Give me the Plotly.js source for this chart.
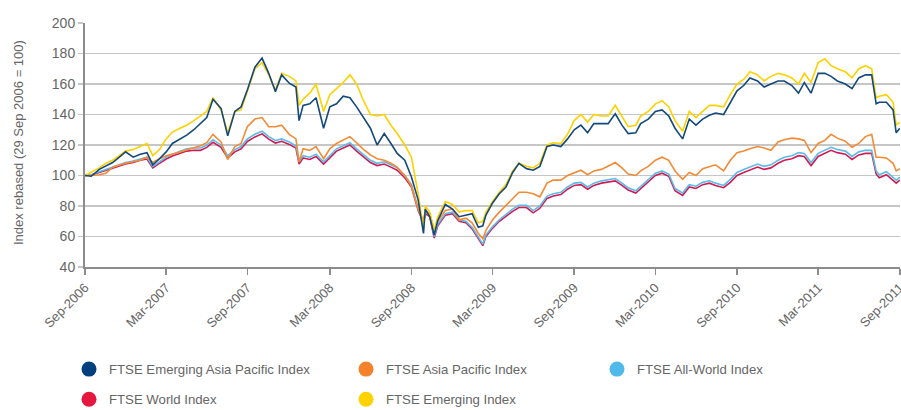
<!DOCTYPE html>
<html>
<head>
<meta charset="utf-8">
<script src="https://cdn.plot.ly/plotly-3.0.1.min.js"></script>
<style>
  html, body { margin: 0; padding: 0; background: #fff; }
  #chart { width: 901px; height: 410px; }
</style>
</head>
<body>
<div id="chart"></div>
<script>
// Observation dates (semi-monthly, with extra points at sharp turns)
const dates = [
  "2006-09-29","2006-10-13","2006-10-31","2006-11-15","2006-11-30","2006-12-15","2006-12-29","2007-01-15","2007-01-31","2007-02-15",
  "2007-02-28","2007-03-15","2007-03-30","2007-04-13","2007-04-30","2007-05-15","2007-05-31","2007-06-15","2007-06-29","2007-07-13",
  "2007-07-31","2007-08-15","2007-08-31","2007-09-14","2007-09-28","2007-10-15","2007-10-31","2007-11-15","2007-11-30","2007-12-14",
  "2007-12-31",
  "2008-01-15","2008-01-22","2008-01-31",
  "2008-02-15","2008-02-29","2008-03-17","2008-03-31","2008-04-15","2008-04-30","2008-05-15","2008-05-30","2008-06-13","2008-06-30",
  "2008-07-15","2008-07-31","2008-08-15","2008-08-29","2008-09-15","2008-09-30","2008-10-15",
  "2008-10-27","2008-10-31","2008-11-10","2008-11-20","2008-11-28",
  "2008-12-15","2008-12-31","2009-01-15","2009-01-30","2009-02-13","2009-02-27",
  "2009-03-09",
  "2009-03-16","2009-03-31","2009-04-15","2009-04-30","2009-05-15","2009-05-29","2009-06-15","2009-06-30","2009-07-15","2009-07-31",
  "2009-08-14","2009-08-31","2009-09-15","2009-09-30","2009-10-15","2009-10-30","2009-11-13","2009-11-30","2009-12-15","2009-12-31",
  "2010-01-15","2010-01-29","2010-02-15","2010-02-26","2010-03-15","2010-03-31","2010-04-15","2010-04-30","2010-05-14","2010-05-31",
  "2010-06-15","2010-06-30","2010-07-15","2010-07-30","2010-08-13","2010-08-31","2010-09-15","2010-09-30","2010-10-15","2010-10-29",
  "2010-11-15","2010-11-30","2010-12-15","2010-12-31","2011-01-14","2011-01-31","2011-02-15","2011-02-28","2011-03-15","2011-03-31",
  "2011-04-15","2011-04-29","2011-05-13","2011-05-31","2011-06-15","2011-06-30","2011-07-15","2011-07-29",
  "2011-08-08","2011-08-15","2011-08-31","2011-09-15","2011-09-22","2011-09-30"
];

const emergingAsiaPacific = [
  100,99.5,104,106.5,108.5,112,115.5,112,114,115,
  107,111,115.5,121,124,126.5,130,134,138,150,
  144,126,142,145,156,171,177,167,155,166,
  160.5,
  158,136,146,
  147,151,131,145,147,152,151,145,138.5,131,
  120,127.5,121,114.5,110,99,84,
  62,78,73,61,70.5,
  81,78,73,74,75,66,
  67,
  74,82,88,92.5,102,108,104.5,103.5,106,119,
  120,119,124,130,133,128,134,134,134,140.5,
  133,127.5,128,134,137,142,143,139,131,124,
  137,133,137,139.5,141,140,148,155.5,159,164,
  162,158,160,162,162,159,154,161,154,167,
  167,165,162,160,157,164,166,166,
  147,148,148,143,128,131
];

const asiaPacific = [
  100,100,100.5,101.5,105.5,107,108,109,110,112,
  108.5,111,113,114,115.5,117,118.5,119.5,121.5,127,
  122,110.5,119,121,132,137,138,132,132,133,
  127,
  124,109,117.5,
  116.5,119,111,117.5,121,123,125.5,121.5,117.5,113.5,
  111,110,108,105.5,100,93,78,
  70,77,75,64,70,
  77,78,71,72,69,62,
  58.5,
  64,71,76,80.5,85,89,89,88,86,95,
  97,97,100,102,103.5,100.5,103,104,106,108.5,
  105,101,100,103,106,110,112,110,103,97.5,
  102,100,104.5,106,107,103,110,115,116,117.5,
  119,118,116.5,122,123.5,124.5,124,123,115,121,
  123,127,124.5,122.5,118.5,121,125.5,127,
  112,112,111.5,108,103,104.5
];

const allWorld = [
  100,100.5,102.5,104,105.5,107,108.5,109.5,111,112,
  106,109,112,114,116,117.5,118,118,120,123.5,
  120,113,117,119,124,127,129,125.5,123,124,
  122,
  119.5,109,113,
  112,114,109,113,117.5,119.5,121.5,117.5,114,110,
  108,109,107,105,100,94,78,
  70,76,74,60,68,
  75,76,71,70,66,60,
  55,
  61,66.5,71,74.5,78,80.5,80.5,77,80,86.5,
  88,89,92.5,95,95.5,92.5,95,96.5,97,98,
  95,92,90,93,97,101.5,103,101,91.5,88.5,
  94,93,95.5,96.5,95,93.5,97.5,102,104,105.5,
  107.5,106,107,110,112,113,115,114.5,108.5,114.5,
  116.5,118.5,117,116,112.5,115.5,116.5,116.5,
  103,100.5,102.5,99,97,99
];

const world = [
  100,100.3,102,103.5,104.8,106.2,107.6,108.5,110,110.8,
  105,108,110.8,112.8,114.6,116,116.6,116.5,118.4,121.8,
  118.5,111.5,115.5,117.5,122.3,125.3,127.3,123.8,121.3,122.4,
  120.4,
  118,107.5,111.5,
  110.5,112.5,107.5,111.5,116,118,120,116,112.5,108.5,
  106.5,107.5,105.5,103.5,98.5,92.5,77,
  69,75,73,59,67,
  74,75,70,69,65,59,
  54,
  60,65.5,70,73.5,76.5,79,79,75.5,78.5,85,
  86.5,87.5,91,93.5,94,91,93.5,95,95.5,96.5,
  93.5,90.5,88.5,91.5,95.5,100,101.5,99.5,90,87,
  92.5,91.5,94,95,93.5,92,95.5,100,102,103.5,
  105.5,104,105,108,110,111,113,112.5,106.5,112.5,
  114.5,116.5,115,114,110.5,113.5,114.5,114.5,
  101,98.5,100.5,97,95,97
];

const emerging = [
  100,102,105,108,110,113,116,117,119,121,
  113,117,124,128.5,131,133,136,139,142,151,
  143,128,142,143,155,170,174,166,156,167,
  165,
  162,146,150,
  154,160,142,153,157,161,166,160,150,140,
  139,140,133,127.5,120,112,88,
  65,80,76,64,73,
  83,81,76,77,77,69,
  70,
  76,83,89,94,103,108,106,105,108,120,
  121.5,121,127,136,140,135,140,139,139,146,
  139,132,133,139,142,147,149,145,136,129,
  142,138,142,146,146,145,153,160,163,168,
  166,162,165,167,166,164,160,167,161,174,
  176.5,172,170,168,164,170,172,170,
  151,152,153,148,133,135
];

const tickDates = ["2006-09-29","2007-03-30","2007-09-28","2008-03-31","2008-09-30","2009-03-31",
                   "2009-09-30","2010-03-31","2010-09-30","2011-03-31","2011-09-30"];
const tickLabels = ["Sep-2006","Mar-2007","Sep-2007","Mar-2008","Sep-2008","Mar-2009",
                    "Sep-2009","Mar-2010","Sep-2010","Mar-2011","Sep-2011"];

const seriesNames = ["FTSE Emerging Asia Pacific Index","FTSE Asia Pacific Index","FTSE All-World Index",
                     "FTSE World Index","FTSE Emerging Index"];

const lineColors = {
  eap: "#13497b", ap: "#f58a35", aw: "#5bbbe9", w: "#cf1c55", em: "#fed100"
};
const dotColors = {
  eap: "#003f7d", ap: "#f5822a", aw: "#4fb9ea", w: "#e5173f", em: "#ffd200"
};

function line(y, color) {
  return { x: dates, y: y, type: "scatter", mode: "lines", showlegend: false,
           hoverinfo: "skip", line: { color: color, width: 1.6 } };
}
function legendItem(name, color, legendId, group) {
  return { x: [null], y: [null], type: "scatter", mode: "markers", name: name,
           legend: legendId, legendgroup: group,
           marker: { symbol: "circle", size: 15, color: color } };
}

const traces = [
  line(world, lineColors.w),
  line(allWorld, lineColors.aw),
  line(asiaPacific, lineColors.ap),
  line(emerging, lineColors.em),
  line(emergingAsiaPacific, lineColors.eap),
  legendItem(seriesNames[0], dotColors.eap, "legend", "g1"),
  legendItem(seriesNames[3], dotColors.w, "legend", "g4"),
  legendItem(seriesNames[1], dotColors.ap, "legend2", "g2"),
  legendItem(seriesNames[4], dotColors.em, "legend2", "g5"),
  legendItem(seriesNames[2], dotColors.aw, "legend3", "g3")
];

const FONT = "'Liberation Sans', Arial, sans-serif";
const legendBase = {
  orientation: "v", xref: "container", yref: "container", xanchor: "left", yanchor: "top",
  y: 1 - 354/410, tracegroupgap: 10, bgcolor: "rgba(0,0,0,0)",
  font: { family: FONT, size: 13.2, color: "#666" }, itemsizing: "trace"
};

const layout = {
  width: 901, height: 410,
  margin: { l: 85, r: 1, t: 23, b: 143, autoexpand: false },
  paper_bgcolor: "#fff", plot_bgcolor: "#fff",
  font: { family: FONT, color: "#666" },
  xaxis: {
    type: "date", range: ["2006-09-29", "2011-09-30 12:00"],
    tickmode: "array", tickvals: tickDates, ticktext: tickLabels,
    tickangle: -45, showgrid: false, zeroline: false, automargin: false,
    ticklabeloverflow: "allow",
    showline: true, linecolor: "#8c8c8c", linewidth: 2,
    ticks: "outside", ticklen: 6, tickwidth: 1.5, tickcolor: "#8c8c8c",
    tickfont: { family: FONT, size: 13, color: "#666" }
  },
  yaxis: {
    range: [40, 200], dtick: 20, tick0: 40, automargin: false,
    showgrid: true, gridcolor: "#c6c6c6", gridwidth: 1.6, zeroline: false,
    showline: true, linecolor: "#8c8c8c", linewidth: 2,
    ticks: "outside", ticklen: 5, tickwidth: 1.5, tickcolor: "#c6c6c6",
    tickfont: { family: FONT, size: 14, color: "#666" }
  },
  legend: Object.assign({}, legendBase, { x: 69/901 }),
  legend2: Object.assign({}, legendBase, { x: 346/901 }),
  legend3: Object.assign({}, legendBase, { x: 597/901 }),
  annotations: [{
    text: "Index rebased (29 Sep 2006 = 100)", xref: "paper", yref: "paper",
    x: (18 - 85) / 815, y: 0.508, xanchor: "center", yanchor: "middle",
    textangle: -90, showarrow: false,
    font: { family: FONT, size: 13, color: "#666" }
  }],
  showlegend: true
};

Plotly.newPlot("chart", traces, layout, { displayModeBar: false, staticPlot: true });
</script>
</body>
</html>
